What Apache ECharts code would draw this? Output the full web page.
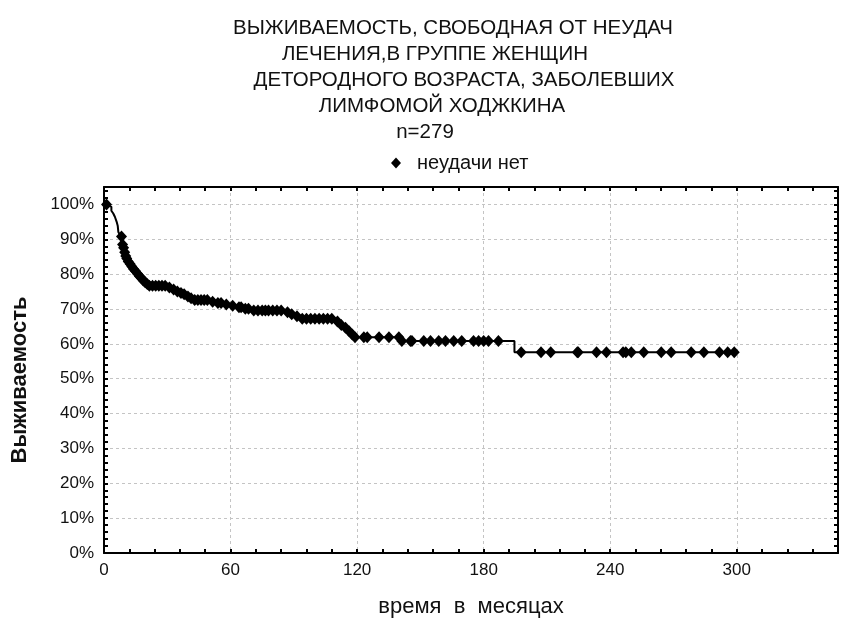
<!DOCTYPE html>
<html>
<head>
<meta charset="utf-8">
<script src="https://cdn.jsdelivr.net/npm/echarts@6/dist/echarts.min.js"></script>
<style>
html,body{margin:0;padding:0;background:#fff;}
#c{width:841px;height:621px;}
</style>
</head>
<body>
<div id="c"></div>
<script>
// ---- data ----
const titleLines = [
  'ВЫЖИВАЕМОСТЬ, СВОБОДНАЯ ОТ НЕУДАЧ',
  'ЛЕЧЕНИЯ,В ГРУППЕ ЖЕНЩИН',
  'ДЕТОРОДНОГО ВОЗРАСТА, ЗАБОЛЕВШИХ',
  'ЛИМФОМОЙ ХОДЖКИНА',
  'n=279'
];
const legendName = 'неудачи нет';
const xAxisTitle = 'время  в  месяцах';
const yAxisTitle = 'Выживаемость';

// Kaplan-Meier step curve (time in months, survival %)
const stepTimes = [0, 1.5, 2.5, 3.5, 4.4, 5.2, 6.0, 6.5, 6.8, 7.4, 8.0, 8.6, 9.0, 9.5, 10.0, 10.5, 11.2, 12.0, 12.8, 13.6, 14.5, 15.4, 16.3, 17.2, 18.1, 19.0, 20.0, 21.0, 30.5, 32.0, 34.0, 35.5, 37.5, 39.0, 40.5, 42.2, 50.5, 53.0, 57.0, 60.0, 63.0, 66.0, 70.0, 86.0, 88.0, 90.5, 92.5, 110.0, 111.5, 113.5, 115.5, 117.0, 118.5, 140.5, 194.6, 299];
const stepValues = [100, 99.6, 99.3, 98.2, 97.4, 96.4, 95.0, 93.9, 92.1, 91.4, 90.8, 88.5, 87.6, 86.3, 85.2, 84.5, 83.6, 82.9, 82.2, 81.5, 80.8, 80.1, 79.4, 78.9, 78.2, 77.7, 77.2, 76.7, 76.2, 75.6, 75.0, 74.6, 74.2, 73.6, 73.1, 72.6, 72.1, 71.7, 71.3, 70.9, 70.5, 70.1, 69.6, 69.1, 68.5, 67.9, 67.2, 66.4, 65.4, 64.6, 63.6, 62.7, 61.9, 60.8, 57.6, 57.6];

// censored observations ("неудачи нет")
const censorTimes = [1.2, 8.3,
  8.8, 9.3, 9.8, 10.3, 10.8, 11.5, 12.4, 13.2, 14.0, 15.0, 15.9, 16.8, 17.7, 18.6, 19.5, 20.5,
  21.5, 23.0, 24.5, 26.0, 27.5, 29.0,
  31.0, 33.0, 34.8, 36.5, 38.0, 39.8, 41.3,
  43.0, 44.5, 46.0, 47.5, 49.0,
  51.5, 54.0, 55.5, 58.0, 61.0, 64.0, 65.0, 67.0, 68.5,
  71.0, 73.0, 75.0, 76.5, 78.0, 80.0, 82.0, 84.0,
  87.0, 89.0, 91.5,
  94.0, 96.0, 98.0, 100.0, 102.0, 104.0, 106.0, 108.0,
  110.7, 112.5, 114.5, 116.2, 117.7,
  119.0, 123.2, 124.8, 130.4, 135.1, 139.8,
  141.2, 145.3, 146.0, 151.6, 154.8, 158.7, 161.9, 165.8, 169.6, 175.2, 177.6, 180.0, 182.3, 187.0,
  197.8, 207.2, 211.8, 224.4, 224.8, 233.5, 238.2, 246.1, 247.4, 250.0, 255.9, 264.2, 268.9, 278.4, 284.4, 291.8, 295.7, 298.8];
const censorValues = [100, 90.8,
  88.5, 87.6, 86.3, 85.2, 84.5, 83.6, 82.9, 82.2, 81.5, 80.8, 80.1, 79.4, 78.9, 78.2, 77.7, 77.2,
  76.7, 76.7, 76.7, 76.7, 76.7, 76.7,
  76.2, 75.6, 75.0, 74.6, 74.2, 73.6, 73.1,
  72.6, 72.6, 72.6, 72.6, 72.6,
  72.1, 71.7, 71.7, 71.3, 70.9, 70.5, 70.5, 70.1, 70.1,
  69.6, 69.6, 69.6, 69.6, 69.6, 69.6, 69.6, 69.6,
  69.1, 68.5, 67.9,
  67.2, 67.2, 67.2, 67.2, 67.2, 67.2, 67.2, 67.2,
  66.4, 65.4, 64.6, 63.6, 62.7,
  61.9, 61.9, 61.9, 61.9, 61.9, 61.9,
  60.8, 60.8, 60.8, 60.8, 60.8, 60.8, 60.8, 60.8, 60.8, 60.8, 60.8, 60.8, 60.8, 60.8,
  57.6, 57.6, 57.6, 57.6, 57.6, 57.6, 57.6, 57.6, 57.6, 57.6, 57.6, 57.6, 57.6, 57.6, 57.6, 57.6, 57.6, 57.6];

const xTicks = [0, 60, 120, 180, 240, 300];
const yTicks = [0, 10, 20, 30, 40, 50, 60, 70, 80, 90, 100];

// ---- chart ----
const FONT = "'Liberation Sans', Arial, sans-serif";
const X_MAX = 348, Y_MAX = 105;
const chart = echarts.init(document.getElementById('c'), null, {renderer: 'canvas'});

function xAx(pos, major) {
  return {
    type: 'value', position: pos, min: 0, max: X_MAX, interval: major ? 60 : 12,
    axisLine: {show: major, onZero: false, lineStyle: {color: '#000', width: 2}},
    axisTick: {show: true, inside: true, length: 4, lineStyle: {color: '#000', width: 2}},
    axisLabel: {
      show: major && pos === 'bottom', margin: 9, color: '#111', fontSize: 17, fontFamily: FONT,
      formatter: v => (xTicks.indexOf(v) >= 0 ? String(v) : '')
    },
    splitLine: {show: major && pos === 'bottom', lineStyle: {color: '#c4c4c4', type: [3, 3], width: 1}}
  };
}
function yAx(pos, major) {
  return {
    type: 'value', position: pos, min: 0, max: Y_MAX, interval: major ? 10 : 2,
    axisLine: {show: major, onZero: false, lineStyle: {color: '#000', width: 2}},
    axisTick: {show: true, inside: true, length: 4, lineStyle: {color: '#000', width: 2}},
    axisLabel: {
      show: major && pos === 'left', margin: 10, color: '#111', fontSize: 17, fontFamily: FONT,
      formatter: v => (yTicks.indexOf(v) >= 0 ? v + '%' : '')
    },
    splitLine: {show: major && pos === 'left', lineStyle: {color: '#c4c4c4', type: [3, 3], width: 1}}
  };
}

const titleCenters = [
  [453, 28], [435, 54], [464, 80], [442, 106], [425, 132]
];

const graphics = titleLines.map((t, i) => ({
  type: 'text', x: titleCenters[i][0], y: titleCenters[i][1], silent: true,
  style: {text: t, fill: '#111', font: '20.5px ' + FONT, textAlign: 'center', textVerticalAlign: 'middle'}
}));
graphics.push({
  type: 'text', x: 471, y: 607,
  style: {text: xAxisTitle, fill: '#111', font: '22px ' + FONT, textAlign: 'center', textVerticalAlign: 'middle'}
});
graphics.push({
  type: 'text', x: 20, y: 380, rotation: Math.PI / 2,
  style: {text: yAxisTitle, fill: '#111', font: 'bold 22px ' + FONT, textAlign: 'center', textVerticalAlign: 'middle'}
});

chart.setOption({
  backgroundColor: '#fff',
  animation: false,
  grid: {left: 104, right: 1, top: 187, bottom: 68, containLabel: false},
  xAxis: [xAx('bottom', true), xAx('bottom', false), xAx('top', true), xAx('top', false)],
  yAxis: [yAx('left', true), yAx('left', false), yAx('right', true), yAx('right', false)],
  legend: {
    data: [{name: legendName, icon: 'diamond', itemStyle: {color: '#000', opacity: 1}}],
    left: 391, top: 153, padding: 0, itemWidth: 10, itemHeight: 11,
    textStyle: {fontSize: 20, fontFamily: FONT, color: '#111', padding: [0, 0, 0, 11]}
  },
  graphic: graphics,
  series: [
    {
      type: 'line', name: 'curve', step: 'end', showSymbol: false, symbol: 'none',
      xAxisIndex: 0, yAxisIndex: 0,
      lineStyle: {color: '#000', width: 2}, data: stepTimes.map((t, i) => [t, stepValues[i]]),
      z: 3
    },
    {
      type: 'scatter', name: legendName, symbol: 'diamond', symbolSize: [11, 12],
      xAxisIndex: 0, yAxisIndex: 0, clip: false,
      itemStyle: {color: '#000', opacity: 1}, data: censorTimes.map((t, i) => [t, censorValues[i]]),
      z: 4
    }
  ]
});
</script>
</body>
</html>
